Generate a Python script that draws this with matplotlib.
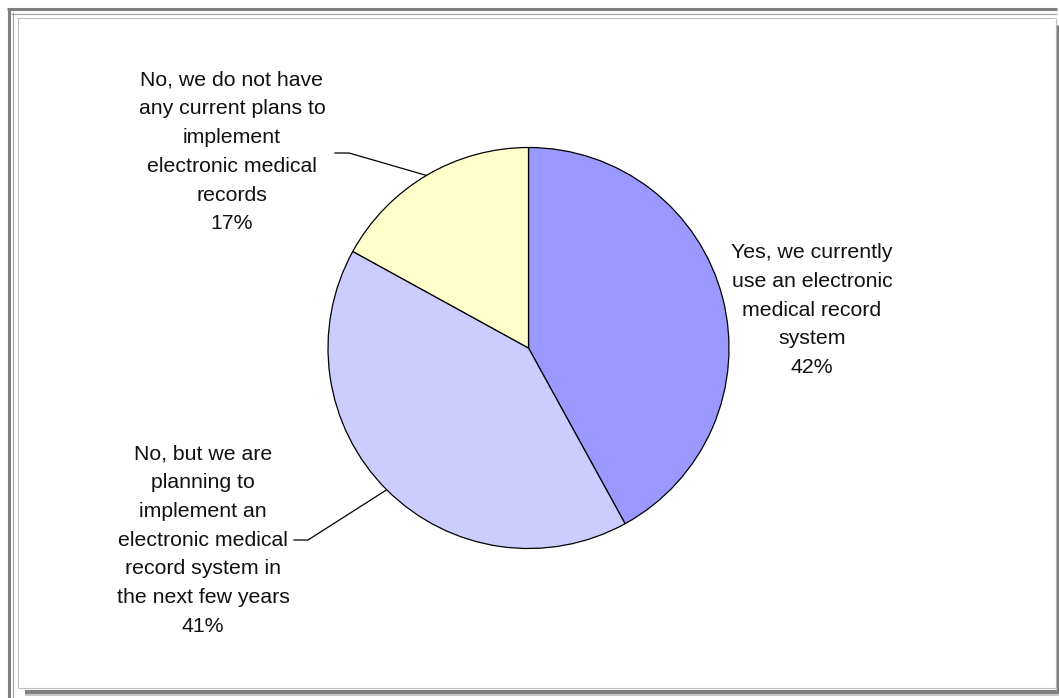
import matplotlib.pyplot as plt
import numpy as np

plt.rcParams['font.family'] = ['Liberation Sans', 'DejaVu Sans']

labels = [
    "Yes, we currently\nuse an electronic\nmedical record\nsystem",
    "No, but we are\nplanning to\nimplement an\nelectronic medical\nrecord system in\nthe next few years",
    "No, we do not have\nany current plans to\nimplement\nelectronic medical\nrecords",
]
shares = [42, 41, 17]
colors = ['#9999FF', '#CCCCFF', '#FFFFCC']

# label block centres and leader starts, in pixels from the top-left
label_pos = [(812, 310), (203, 540), (232, 152)]
leader_start = [None, (294, 540), (335, 153)]

W, H = 1059, 698
fig = plt.figure(figsize=(W / 100, H / 100), dpi=100)
ax = fig.add_axes([0, 0, 1, 1])
ax.set_xlim(0, W)
ax.set_ylim(H, 0)
ax.set_aspect('equal')
ax.axis('off')

# window-style frame with a drop shadow
def hline(x0, x1, y, color, lw):
    ax.plot([x0, x1], [y, y], color=color, lw=lw, solid_capstyle='butt')

def vline(x, y0, y1, color, lw):
    ax.plot([x, x], [y0, y1], color=color, lw=lw, solid_capstyle='butt')

hline(7, 1057, 9, '#808080', 2.2)
vline(8.5, 8, 698, '#808080', 2.2)
hline(11, 1057, 13.5, '#a0a0a0', 0.8)
vline(13, 12, 698, '#a0a0a0', 0.8)
hline(17, 1055, 18, '#c0c0c0', 0.8)
vline(18, 18, 688, '#c0c0c0', 0.8)
vline(1055.5, 18, 688, '#c0c0c0', 0.8)
hline(18, 1056, 688, '#c0c0c0', 0.8)
vline(1058, 25, 693, '#808080', 2.4)
hline(25, 1059, 691.5, '#808080', 3.0)
hline(25, 1059, 695, '#c8c8c8', 1.5)

# pie, clockwise from 12 o'clock (y axis is inverted)
cx, cy, r = 528.5, 348, 200.5
wedges, _ = ax.pie(shares, colors=colors, startangle=-90, counterclock=True,
                   center=(cx, cy), radius=r, frame=True,
                   wedgeprops=dict(edgecolor='black', linewidth=0.9))
ax.set_xlim(0, W)
ax.set_ylim(H, 0)
ax.axis('off')

for w, lab, share, pos, start in zip(wedges, labels, shares, label_pos, leader_start):
    ax.text(pos[0], pos[1], f"{lab}\n{share}%", ha='center', va='center',
            fontsize=15.3, linespacing=1.65, color='#111111')
    if start is not None:
        mid = np.deg2rad((w.theta1 + w.theta2) / 2)
        ex, ey = cx + r * np.cos(mid), cy + r * np.sin(mid)
        ax.plot([start[0], start[0] + 14, ex], [start[1], start[1], ey],
                color='black', lw=0.9)

fig.savefig('out.png', dpi=100)
